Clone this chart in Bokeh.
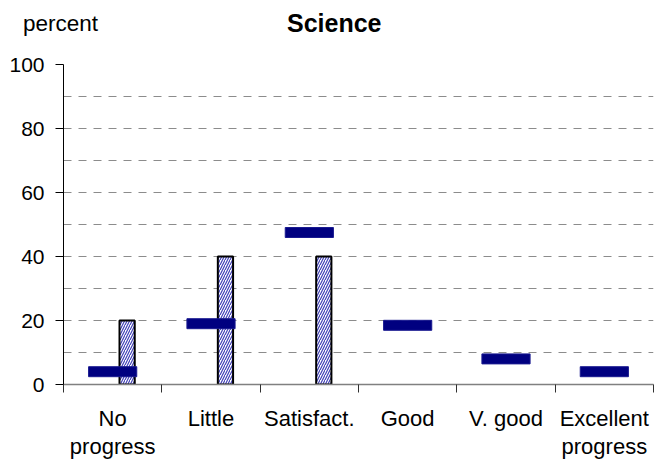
from bokeh.plotting import figure
from bokeh.models import ColumnDataSource, Range1d, FixedTicker, Div
from bokeh.layouts import column
from bokeh.embed import file_html
from bokeh.resources import INLINE

# ---- data ----
categories = ["No\nprogress", "Little", "Satisfact.", "Good", "V. good", "Excellent\nprogress"]
dash_values = [4, 19, 47.5, 18.5, 8, 4]        # dark blue markers
bar_values = [20, 40, 40, 0, 0, 0]             # hatched bars
y_ticks = [0, 20, 40, 60, 80, 100]
title_text = "Science"
y_title = "percent"

FONT = "Liberation Sans"
n = len(categories)
centers = [i + 0.5 for i in range(n)]
bounds = list(range(0, n + 1))

W = 654
HEAD_H = 50
head = Div(width=W, height=HEAD_H, margin=0, text=(
    '<div style="position:relative;width:%dpx;height:%dpx;font-family:\'Liberation Sans\',Arial,sans-serif;color:black;">'
    '<span style="position:absolute;left:23px;top:13px;font-size:22.5px;line-height:22px;white-space:nowrap;">%s</span>'
    '<span style="position:absolute;left:287px;top:11px;font-size:25px;line-height:25px;font-weight:bold;white-space:nowrap;">%s</span>'
    '</div>') % (W, HEAD_H, y_title, title_text))

p = figure(width=W, height=462 - HEAD_H, output_backend="svg", toolbar_location=None,
           x_range=Range1d(0, n), y_range=Range1d(0, 100), margin=0,
           min_border_left=63, min_border_right=1, min_border_top=64 - HEAD_H,
           min_border_bottom=76)
p.outline_line_color = None
p.background_fill_color = "white"
p.border_fill_color = "white"

# grid
p.xgrid.grid_line_color = None
p.ygrid.ticker = FixedTicker(ticks=list(range(10, 101, 10)))
p.ygrid.grid_line_color = "#8c8c8c"
p.ygrid.grid_line_dash = "8 7"
p.ygrid.grid_line_width = 1

# y axis
p.yaxis.ticker = FixedTicker(ticks=y_ticks)
p.yaxis.axis_line_color = "black"
p.yaxis.major_tick_line_color = "black"
p.yaxis.major_tick_out = 8
p.yaxis.major_tick_in = 0
p.yaxis.minor_tick_line_color = None
p.yaxis.major_label_standoff = 11
p.yaxis.major_label_text_font = FONT
p.yaxis.major_label_text_font_size = "21px"
p.yaxis.major_label_text_color = "black"

# x axis: names at category centres, tick marks (minor ticks) at the boundaries
p.xaxis.ticker = FixedTicker(ticks=centers, minor_ticks=bounds)
p.xaxis.major_label_overrides = {c: t for c, t in zip(centers, categories)}
p.xaxis.axis_line_color = "#808080"
p.xaxis.axis_line_width = 1.5
p.xaxis.major_tick_line_color = None
p.xaxis.major_tick_out = 0
p.xaxis.major_tick_in = 0
p.xaxis.minor_tick_line_color = "#303030"
p.xaxis.minor_tick_line_width = 1
p.xaxis.minor_tick_out = 8
p.xaxis.minor_tick_in = 0
p.xaxis.major_label_standoff = 13
p.xaxis.major_label_text_font = FONT
p.xaxis.major_label_text_font_size = "22px"
p.xaxis.major_label_text_color = "black"
p.xaxis.major_label_text_line_height = 1.15

# hatched bars (only non-zero ones are visible)
bar_idx = [i for i, v in enumerate(bar_values) if v > 0]
bar_src = ColumnDataSource(dict(
    x=[centers[i] + 0.147 for i in bar_idx],
    top=[bar_values[i] for i in bar_idx],
))
p.vbar(x="x", top="top", bottom=0, width=0.155, source=bar_src,
       fill_color="white", line_color="black", line_width=2,
       hatch_pattern="/", hatch_color="#4040b8", hatch_scale=5, hatch_weight=1.2)

# dark blue markers
dash_src = ColumnDataSource(dict(x=centers, y=dash_values))
p.rect(x="x", y="y", width=0.49, height=10, height_units="screen", source=dash_src,
       fill_color="#000080", line_color="#1a1a90", line_width=1)

layout = column(head, p, spacing=0, margin=0)
open("out.html", "w").write(file_html(layout, INLINE))
